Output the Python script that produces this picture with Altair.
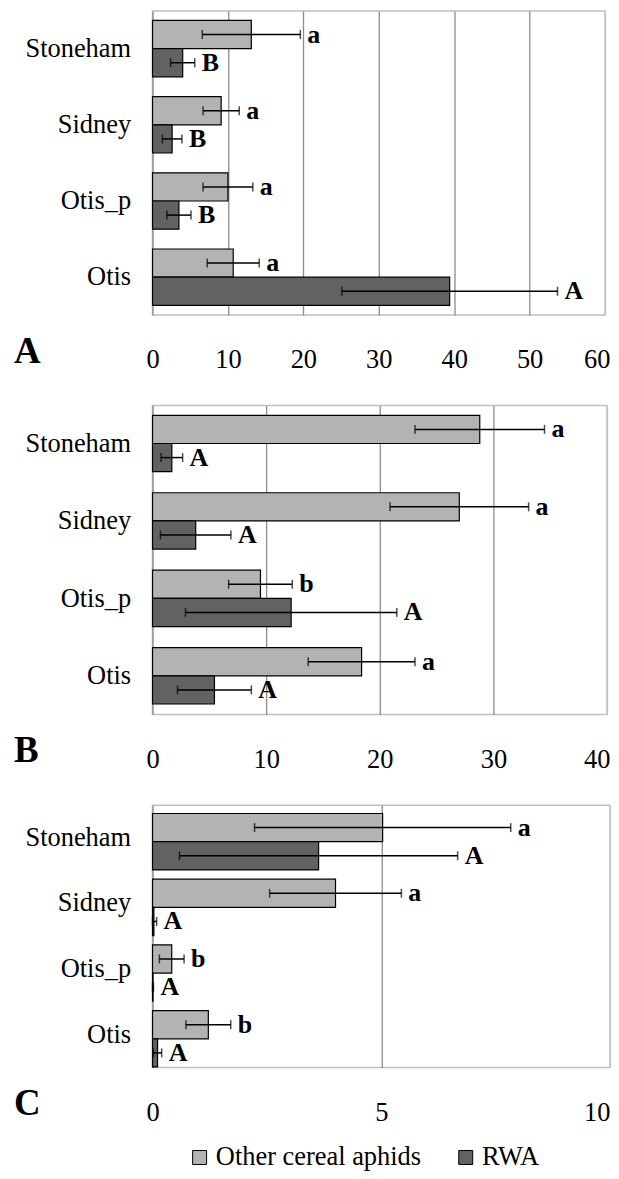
import altair as alt
import pandas as pd

FONT = "Liberation Serif"
LIGHT = "#b3b3b3"
DARK = "#626262"

sites = ["Stoneham", "Sidney", "Otis_p", "Otis"]
series_names = ["Other cereal aphids", "RWA"]
panel_letters = ["A", "B", "C"]

# Panel A
A_other_mean = [13.1, 9.1, 10.0, 10.7]
A_other_se = [6.5, 2.4, 3.3, 3.45]
A_other_sig = ["a", "a", "a", "a"]
A_rwa_mean = [4.0, 2.6, 3.5, 39.4]
A_rwa_se = [1.6, 1.3, 1.6, 14.3]
A_rwa_sig = ["B", "B", "B", "A"]
A_ticks = [0, 10, 20, 30, 40, 50, 60]

# Panel B
B_other_mean = [28.8, 27.0, 9.5, 18.4]
B_other_se = [5.7, 6.1, 2.8, 4.7]
B_other_sig = ["a", "a", "b", "a"]
B_rwa_mean = [1.7, 3.8, 12.2, 5.45]
B_rwa_se = [0.95, 3.1, 9.3, 3.25]
B_rwa_sig = ["A", "A", "A", "A"]
B_ticks = [0, 10, 20, 30, 40]

# Panel C
C_other_mean = [5.03, 4.0, 0.42, 1.22]
C_other_se = [2.8, 1.44, 0.27, 0.49]
C_other_sig = ["a", "a", "b", "b"]
C_rwa_mean = [3.63, 0.03, 0.01, 0.11]
C_rwa_se = [3.04, 0.06, 0.01, 0.09]
C_rwa_sig = ["A", "A", "A", "A"]
C_ticks = [0, 5, 10]


def panel(letter, om, ose, osig, rm, rse, rsig, ticks, width, height, last_off):
    rows = []
    for i, s in enumerate(sites):
        for name, m, e, g in ((series_names[0], om[i], ose[i], osig[i]),
                              (series_names[1], rm[i], rse[i], rsig[i])):
            rows.append(dict(site=s, series=name, value=m,
                             lo=max(0.0, m - e), hi=m + e, sig=g))
    df = pd.DataFrame(rows)
    xmax = ticks[-1]
    is_last = f"datum.value >= {xmax}"

    y = alt.Y("site:N", sort=sites, title=None,
              scale=alt.Scale(paddingInner=0.26, paddingOuter=0.125),
              axis=alt.Axis(labelFont=FONT, labelFontSize=26.5, labelColor="black",
                            labelPadding=22, ticks=False, domain=False, grid=False))
    yoff = alt.YOffset("series:N", sort=series_names,
                       scale=alt.Scale(paddingInner=0, paddingOuter=0))
    xaxis = alt.Axis(values=ticks, title=None, domain=False, ticks=False,
                     labelPadding=32, labelFont=FONT, labelFontSize=26.5,
                     labelColor="black", labelFlush=False,
                     labelAlign={"condition": {"test": is_last, "value": "right"},
                                 "value": "center"},
                     labelOffset={"condition": {"test": is_last, "value": last_off},
                                  "value": 0},
                     grid=True,
                     gridColor={"condition": {"test": is_last, "value": "#c4c4c4"},
                                "value": "#8c8c8c"},
                     gridWidth=1.3)
    xs = alt.Scale(domain=[0, xmax], nice=False)

    base = alt.Chart(df)
    bars = base.mark_bar(stroke="black", strokeWidth=1.2).encode(
        x=alt.X("value:Q", scale=xs, axis=xaxis),
        y=y, yOffset=yoff,
        color=alt.Color("series:N",
                        scale=alt.Scale(domain=series_names, range=[LIGHT, DARK]),
                        legend=alt.Legend(title=None)),
    )
    rule = base.mark_rule(color="black", strokeWidth=1.5).encode(
        x=alt.X("lo:Q", title=None), x2="hi:Q", y=y, yOffset=yoff)
    cap_lo = base.mark_tick(color="black", thickness=1.5, size=9).encode(
        x=alt.X("lo:Q", title=None), y=y, yOffset=yoff)
    cap_hi = base.mark_tick(color="black", thickness=1.5, size=9).encode(
        x=alt.X("hi:Q", title=None), y=y, yOffset=yoff)
    sig = base.mark_text(align="left", baseline="alphabetic", dx=7, dy=8,
                         font=FONT, fontSize=26, fontWeight="bold",
                         color="black").encode(
        x=alt.X("hi:Q", title=None), y=y, yOffset=yoff, text="sig:N")
    lab = alt.Chart(pd.DataFrame({"letter": [letter]})).mark_text(
        align="left", baseline="alphabetic", font=FONT, fontSize=37,
        fontWeight="bold", color="black").encode(
        x=alt.value(-139), y=alt.value(height + 48), text="letter:N")
    return alt.layer(bars, rule, cap_lo, cap_hi, sig, lab).properties(
        width=width, height=height)


pA = panel(panel_letters[0], A_other_mean, A_other_se, A_other_sig,
           A_rwa_mean, A_rwa_se, A_rwa_sig, A_ticks, 454, 305, 5)
pB = panel(panel_letters[1], B_other_mean, B_other_se, B_other_sig,
           B_rwa_mean, B_rwa_se, B_rwa_sig, B_ticks, 456, 310, 3)
pC = panel(panel_letters[2], C_other_mean, C_other_se, C_other_sig,
           C_rwa_mean, C_rwa_se, C_rwa_sig, C_ticks, 459, 263, 0)

chart = alt.vconcat(pA, pB, pC, spacing=91, bounds="flush").resolve_scale(
    color="shared"
).properties(
    padding={"left": 5, "top": 0, "right": 0, "bottom": 0}
).configure_view(
    stroke="#bfbfbf", strokeWidth=1.5
).configure_legend(
    orient="none", legendX=34, legendY=1137, direction="horizontal",
    symbolType="square", symbolSize=196, symbolStrokeColor="black",
    symbolStrokeWidth=1, labelFont=FONT, labelFontSize=26.5, labelColor="black",
    columnPadding=31, labelOffset=3, padding=0, labelLimit=400
)

chart.save("out.html", embed_options={"renderer": "svg", "actions": False})
